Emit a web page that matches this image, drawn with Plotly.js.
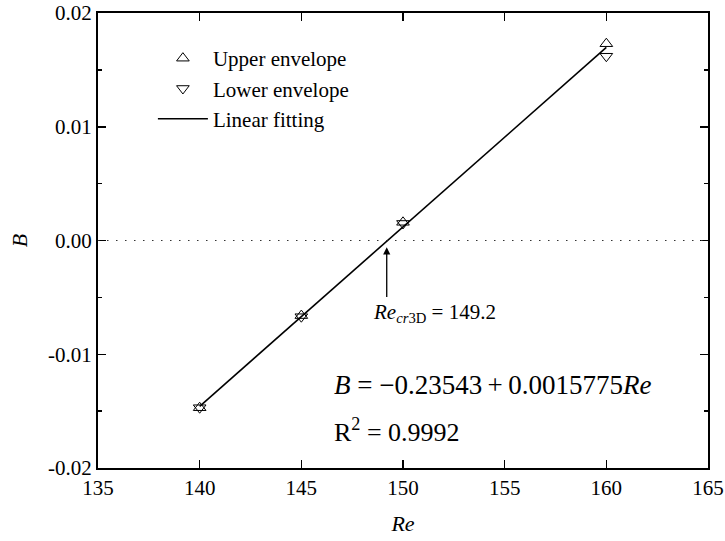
<!DOCTYPE html>
<html>
<head>
<meta charset="utf-8">
<script src="https://cdn.plot.ly/plotly-3.0.1.min.js"></script>
<style>
  html, body { margin: 0; padding: 0; background: #fff; }
  #chart { width: 725px; height: 541px; }
</style>
</head>
<body>
<div id="chart"></div>
<script>
// Reynolds numbers of the simulated cases
const reValues = [140, 145, 150, 160];
// Growth rate B read from the upper and lower envelopes
const upperEnvelope = [-0.0147, -0.0066, 0.0016, 0.0173];
const lowerEnvelope = [-0.0147, -0.0067, 0.0015, 0.0162];

// Linear fit B = a + b*Re and its zero crossing
const fitIntercept = -0.23543;
const fitSlope = 0.0015775;
const fitRange = [140, 160];
const reCritical = 149.2;
const rSquared = 0.9992;

// Axis ticks
const xTickVals = [135, 140, 145, 150, 155, 160, 165];
const yTickVals = [-0.02, -0.01, 0, 0.01, 0.02];
const yTickText = ['-0.02', '-0.01', '0.00', '0.01', '0.02'];

const serif = 'Liberation Serif, Times New Roman, serif';
const thin = '\u2009';

const fitY = fitRange.map(r => fitIntercept + fitSlope * r);

const traces = [
  {
    x: reValues, y: upperEnvelope, type: 'scatter', mode: 'markers',
    name: 'Upper envelope',
    marker: { symbol: 'triangle-up-open', size: 11, color: '#000', line: { width: 1, color: '#000' } }
  },
  {
    x: reValues, y: lowerEnvelope, type: 'scatter', mode: 'markers',
    name: 'Lower envelope',
    marker: { symbol: 'triangle-down-open', size: 11, color: '#000', line: { width: 1, color: '#000' } }
  },
  {
    x: fitRange, y: fitY, type: 'scatter', mode: 'lines',
    name: 'Linear fitting',
    line: { color: '#000', width: 1.6 }
  }
];

const axisCommon = {
  showgrid: false, zeroline: false,
  showline: true, linecolor: '#000', linewidth: 2, mirror: 'allticks',
  ticks: 'inside', ticklen: 8, tickwidth: 1.5, tickcolor: '#000',
  tickfont: { family: serif, size: 21, color: '#000' }
};

const layout = {
  width: 725, height: 541,
  margin: { l: 98, r: 17, t: 13, b: 73 },
  paper_bgcolor: '#fff', plot_bgcolor: '#fff',
  font: { family: serif, color: '#000' },
  showlegend: true,
  legend: {
    x: 0.09, y: 0.945, xanchor: 'left', yanchor: 'top',
    bgcolor: 'rgba(0,0,0,0)', borderwidth: 0,
    font: { family: serif, size: 21, color: '#000' },
    itemwidth: 50, tracegroupgap: 0
  },
  xaxis: Object.assign({}, axisCommon, {
    range: [135, 165], tickvals: xTickVals,
    title: { text: '<i>Re</i>', font: { family: serif, size: 22, color: '#000' }, standoff: 16 }
  }),
  yaxis: Object.assign({}, axisCommon, {
    range: [-0.02, 0.02], tickvals: yTickVals, ticktext: yTickText,
    minor: { dtick: 0.005, ticks: 'inside', ticklen: 4, tickwidth: 1.5, tickcolor: '#000' },
    title: { text: '<i>B</i>', font: { family: serif, size: 22, color: '#000' }, standoff: 14 }
  }),
  shapes: [
    {
      type: 'line', xref: 'paper', yref: 'y', x0: 0, x1: 1, y0: 0, y1: 0,
      line: { color: '#333', width: 1.2, dash: '1.5px,7.5px' }
    }
  ],
  annotations: [
    {
      x: reCritical, y: -0.0006, xref: 'x', yref: 'y',
      ax: reCritical, ay: -0.0051, axref: 'x', ayref: 'y',
      text: '', showarrow: true, arrowhead: 2, arrowsize: 1.1, arrowwidth: 1.3, arrowcolor: '#000', standoff: 0
    },
    {
      x: 148.45, y: -0.0064, xref: 'x', yref: 'y', xanchor: 'left', yanchor: 'middle',
      text: '<i>Re</i><sub><i>cr</i>3D</sub> = ' + reCritical.toFixed(1),
      showarrow: false, font: { family: serif, size: 21, color: '#000' }
    },
    {
      x: 146.5, y: -0.0127, xref: 'x', yref: 'y', xanchor: 'left', yanchor: 'middle',
      text: '<i>B</i> = \u2212' + Math.abs(fitIntercept) + thin + '+' + thin + fitSlope + '<i>Re</i>',
      showarrow: false, font: { family: serif, size: 27, color: '#000' }
    },
    {
      x: 146.5, y: -0.0167, xref: 'x', yref: 'y', xanchor: 'left', yanchor: 'middle',
      text: 'R<sup>2</sup> = ' + rSquared,
      showarrow: false, font: { family: serif, size: 26, color: '#000' }
    }
  ]
};

Plotly.newPlot('chart', traces, layout, { staticPlot: true, displayModeBar: false });
</script>
</body>
</html>
